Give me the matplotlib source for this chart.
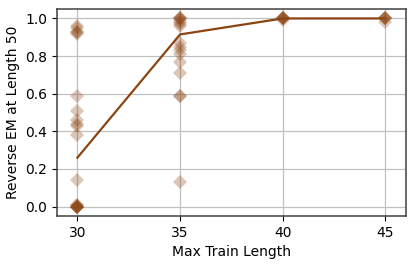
import numpy as np
import matplotlib
matplotlib.use("Agg")
import matplotlib.pyplot as plt

# max train lengths on the x axis
train_lengths = [30, 35, 40, 45]

# per-run reverse EM values for each train length
runs_30 = [0.96, 0.95, 0.93, 0.93, 0.92, 0.59, 0.51, 0.46, 0.44, 0.43, 0.38,
           0.14, 0.01, 0.01, 0.0, 0.0, 0.0, 0.0, 0.0, 0.0]
runs_35 = [1.0, 1.0, 1.0, 0.99, 0.98, 0.97, 0.96, 0.87, 0.85, 0.83, 0.81,
           0.77, 0.71, 0.59, 0.59, 0.13]
runs_40 = [1.0, 1.0, 1.0, 1.0, 1.0, 0.99]
runs_45 = [1.0, 1.0, 1.0, 1.0, 0.98]

# summary line
line_vals = [0.26, 0.915, 1.0, 1.0]

color = '#8b4513'

fig, ax = plt.subplots(figsize=(4.15, 2.66), dpi=100)
ax.grid(True, color='#c0c0c0', linewidth=0.9)
ax.set_axisbelow(True)
for sp in ax.spines.values():
    sp.set_color('#404040')
    sp.set_linewidth(1.1)

for x, vals in zip(train_lengths, [runs_30, runs_35, runs_40, runs_45]):
    ax.plot([x] * len(vals), vals, linestyle='none', marker='D',
            markersize=7.5, color=color, alpha=0.3, markeredgewidth=0)

ax.plot(train_lengths, line_vals, color=color, linewidth=1.6)

ax.set_xticks(train_lengths)
ax.set_xlim(29, 46)
ax.set_ylim(-0.05, 1.05)
ax.set_xlabel('Max Train Length')
ax.set_ylabel('Reverse EM at Length 50')

fig.subplots_adjust(left=0.137, right=0.978, top=0.966, bottom=0.188)
fig.savefig('out.png', dpi=100)
